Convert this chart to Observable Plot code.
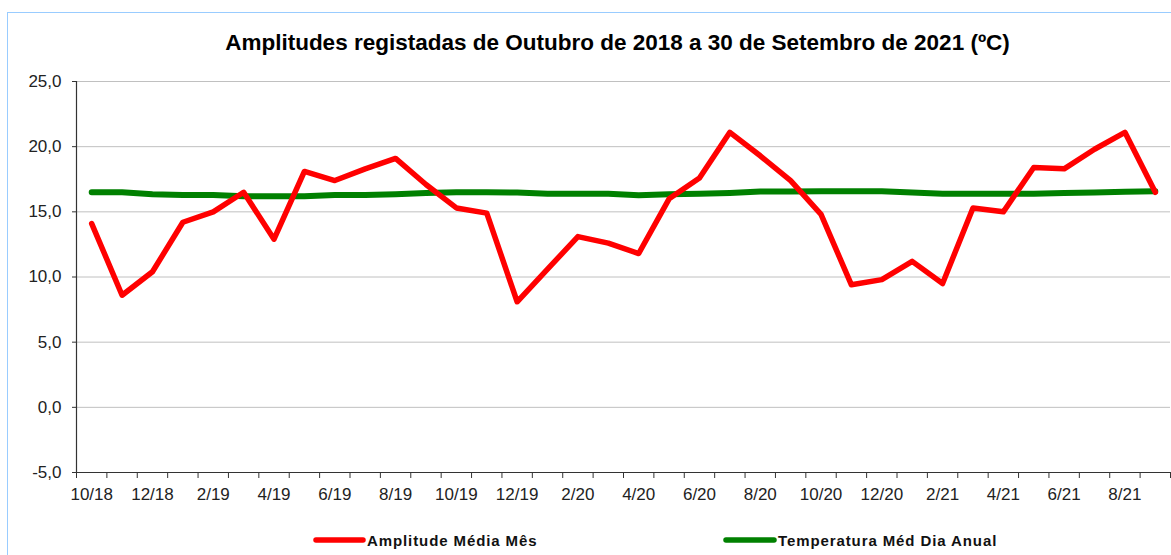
<!DOCTYPE html>
<html>
<head>
<meta charset="utf-8">
<script src="https://cdn.jsdelivr.net/npm/d3@7"></script>
<script src="https://cdn.jsdelivr.net/npm/@observablehq/plot@0.6"></script>
<style>
  html, body { margin: 0; padding: 0; background: #fff; overflow: hidden; }
  #wrap { position: relative; width: 1171px; height: 555px; }
  #border { position: absolute; left: 7px; top: 12px; width: 1300px; height: 700px;
            border-left: 1px solid #99ccff; border-top: 1px solid #99ccff; pointer-events: none; }
  #chart { position: absolute; left: 0; top: 0; }
</style>
</head>
<body>
<div id="wrap"><div id="chart"></div><div id="border"></div></div>
<script>
const titleText = "Amplitudes registadas de Outubro de 2018 a 30 de Setembro de 2021 (ºC)";
const months = ["10/18","11/18","12/18","1/19","2/19","3/19","4/19","5/19","6/19","7/19","8/19","9/19",
                "10/19","11/19","12/19","1/20","2/20","3/20","4/20","5/20","6/20","7/20","8/20","9/20",
                "10/20","11/20","12/20","1/21","2/21","3/21","4/21","5/21","6/21","7/21","8/21","9/21"];
const amplitude = [14.1, 8.6, 10.4, 14.2, 15.0, 16.5, 12.9, 18.1, 17.4, 18.3, 19.1, 17.1,
                   15.3, 14.9, 8.1, 10.6, 13.1, 12.6, 11.8, 16.0, 17.6, 21.1, 19.3, 17.4,
                   14.8, 9.4, 9.8, 11.2, 9.5, 15.3, 15.0, 18.4, 18.3, 19.8, 21.1, 16.5];
const temperature = [16.5, 16.5, 16.35, 16.3, 16.3, 16.2, 16.2, 16.2, 16.3, 16.3, 16.35, 16.45,
                     16.5, 16.5, 16.48, 16.38, 16.38, 16.38, 16.28, 16.35, 16.38, 16.45, 16.56, 16.56,
                     16.58, 16.58, 16.58, 16.48, 16.38, 16.38, 16.38, 16.38, 16.45, 16.48, 16.55, 16.58];
const yTicks = [-5, 0, 5, 10, 15, 20, 25];
const seriesNames = ["Amplitude Média Mês", "Temperatura Méd Dia Anual"];
const seriesColors = ["#ff0000", "#008000"];

const ampData = months.map((m, i) => ({i, m, v: amplitude[i]}));
const tempData = months.map((m, i) => ({i, m, v: temperature[i]}));
const boundaries = d3.range(months.length + 1).map(i => i - 0.5);
const labelIdx = d3.range(0, months.length, 2);
const fmt = d => d.toFixed(1).replace(".", ",");

const chart = Plot.plot({
  width: 1171,
  height: 555,
  marginLeft: 76,
  marginRight: 1,
  marginTop: 81,
  marginBottom: 83,
  style: {fontFamily: "'Liberation Sans', Arial, sans-serif", fontSize: "17px", color: "#000", background: "transparent"},
  x: {domain: [-0.5, months.length - 0.5]},
  y: {domain: [-5, 25]},
  marks: [
    Plot.gridY(yTicks, {stroke: "#c0c0c0", strokeOpacity: 1, strokeWidth: 1}),
    Plot.axisY(yTicks, {tickSize: 4, tickPadding: 11, tickFormat: fmt, stroke: "#333", fill: "#222", fontSize: 17, label: null}),
    Plot.axisX(boundaries, {tickSize: 6, tickFormat: () => "", stroke: "#333", label: null}),
    Plot.axisX(labelIdx, {tickSize: 0, tickPadding: 15, tickFormat: i => months[i], fill: "#222", fontSize: 17, label: null}),
    Plot.ruleX([-0.5], {stroke: "#333", strokeWidth: 1.2}),
    Plot.ruleY([-5], {stroke: "#333", strokeWidth: 1.2}),
    Plot.line(tempData, {x: "i", y: "v", stroke: seriesColors[1], strokeWidth: 6}),
    Plot.line(ampData, {x: "i", y: "v", stroke: seriesColors[0], strokeWidth: 5.5}),
    Plot.text([titleText], {frameAnchor: "top", dx: -6, dy: -47, fontSize: 22.5, fontWeight: "bold", fill: "#000"})
  ]
});
document.getElementById("chart").appendChild(chart);

// legend (below the plot)
const svg = d3.select(chart);
const legendItems = [
  {name: seriesNames[0], color: seriesColors[0], x0: 316, x1: 363},
  {name: seriesNames[1], color: seriesColors[1], x0: 726, x1: 774}
];
const lg = svg.append("g").attr("text-anchor", "start");
legendItems.forEach(d => {
  lg.append("line").attr("x1", d.x0).attr("x2", d.x1).attr("y1", 540).attr("y2", 540)
    .attr("stroke", d.color).attr("stroke-width", 5.5).attr("stroke-linecap", "round");
  lg.append("text").attr("x", d.x1 + 4).attr("y", 545.5).text(d.name)
    .attr("text-anchor", "start")
    .attr("font-size", 15).attr("font-weight", "bold").attr("fill", "#111")
    .attr("letter-spacing", "0.9px");
});
</script>
</body>
</html>
